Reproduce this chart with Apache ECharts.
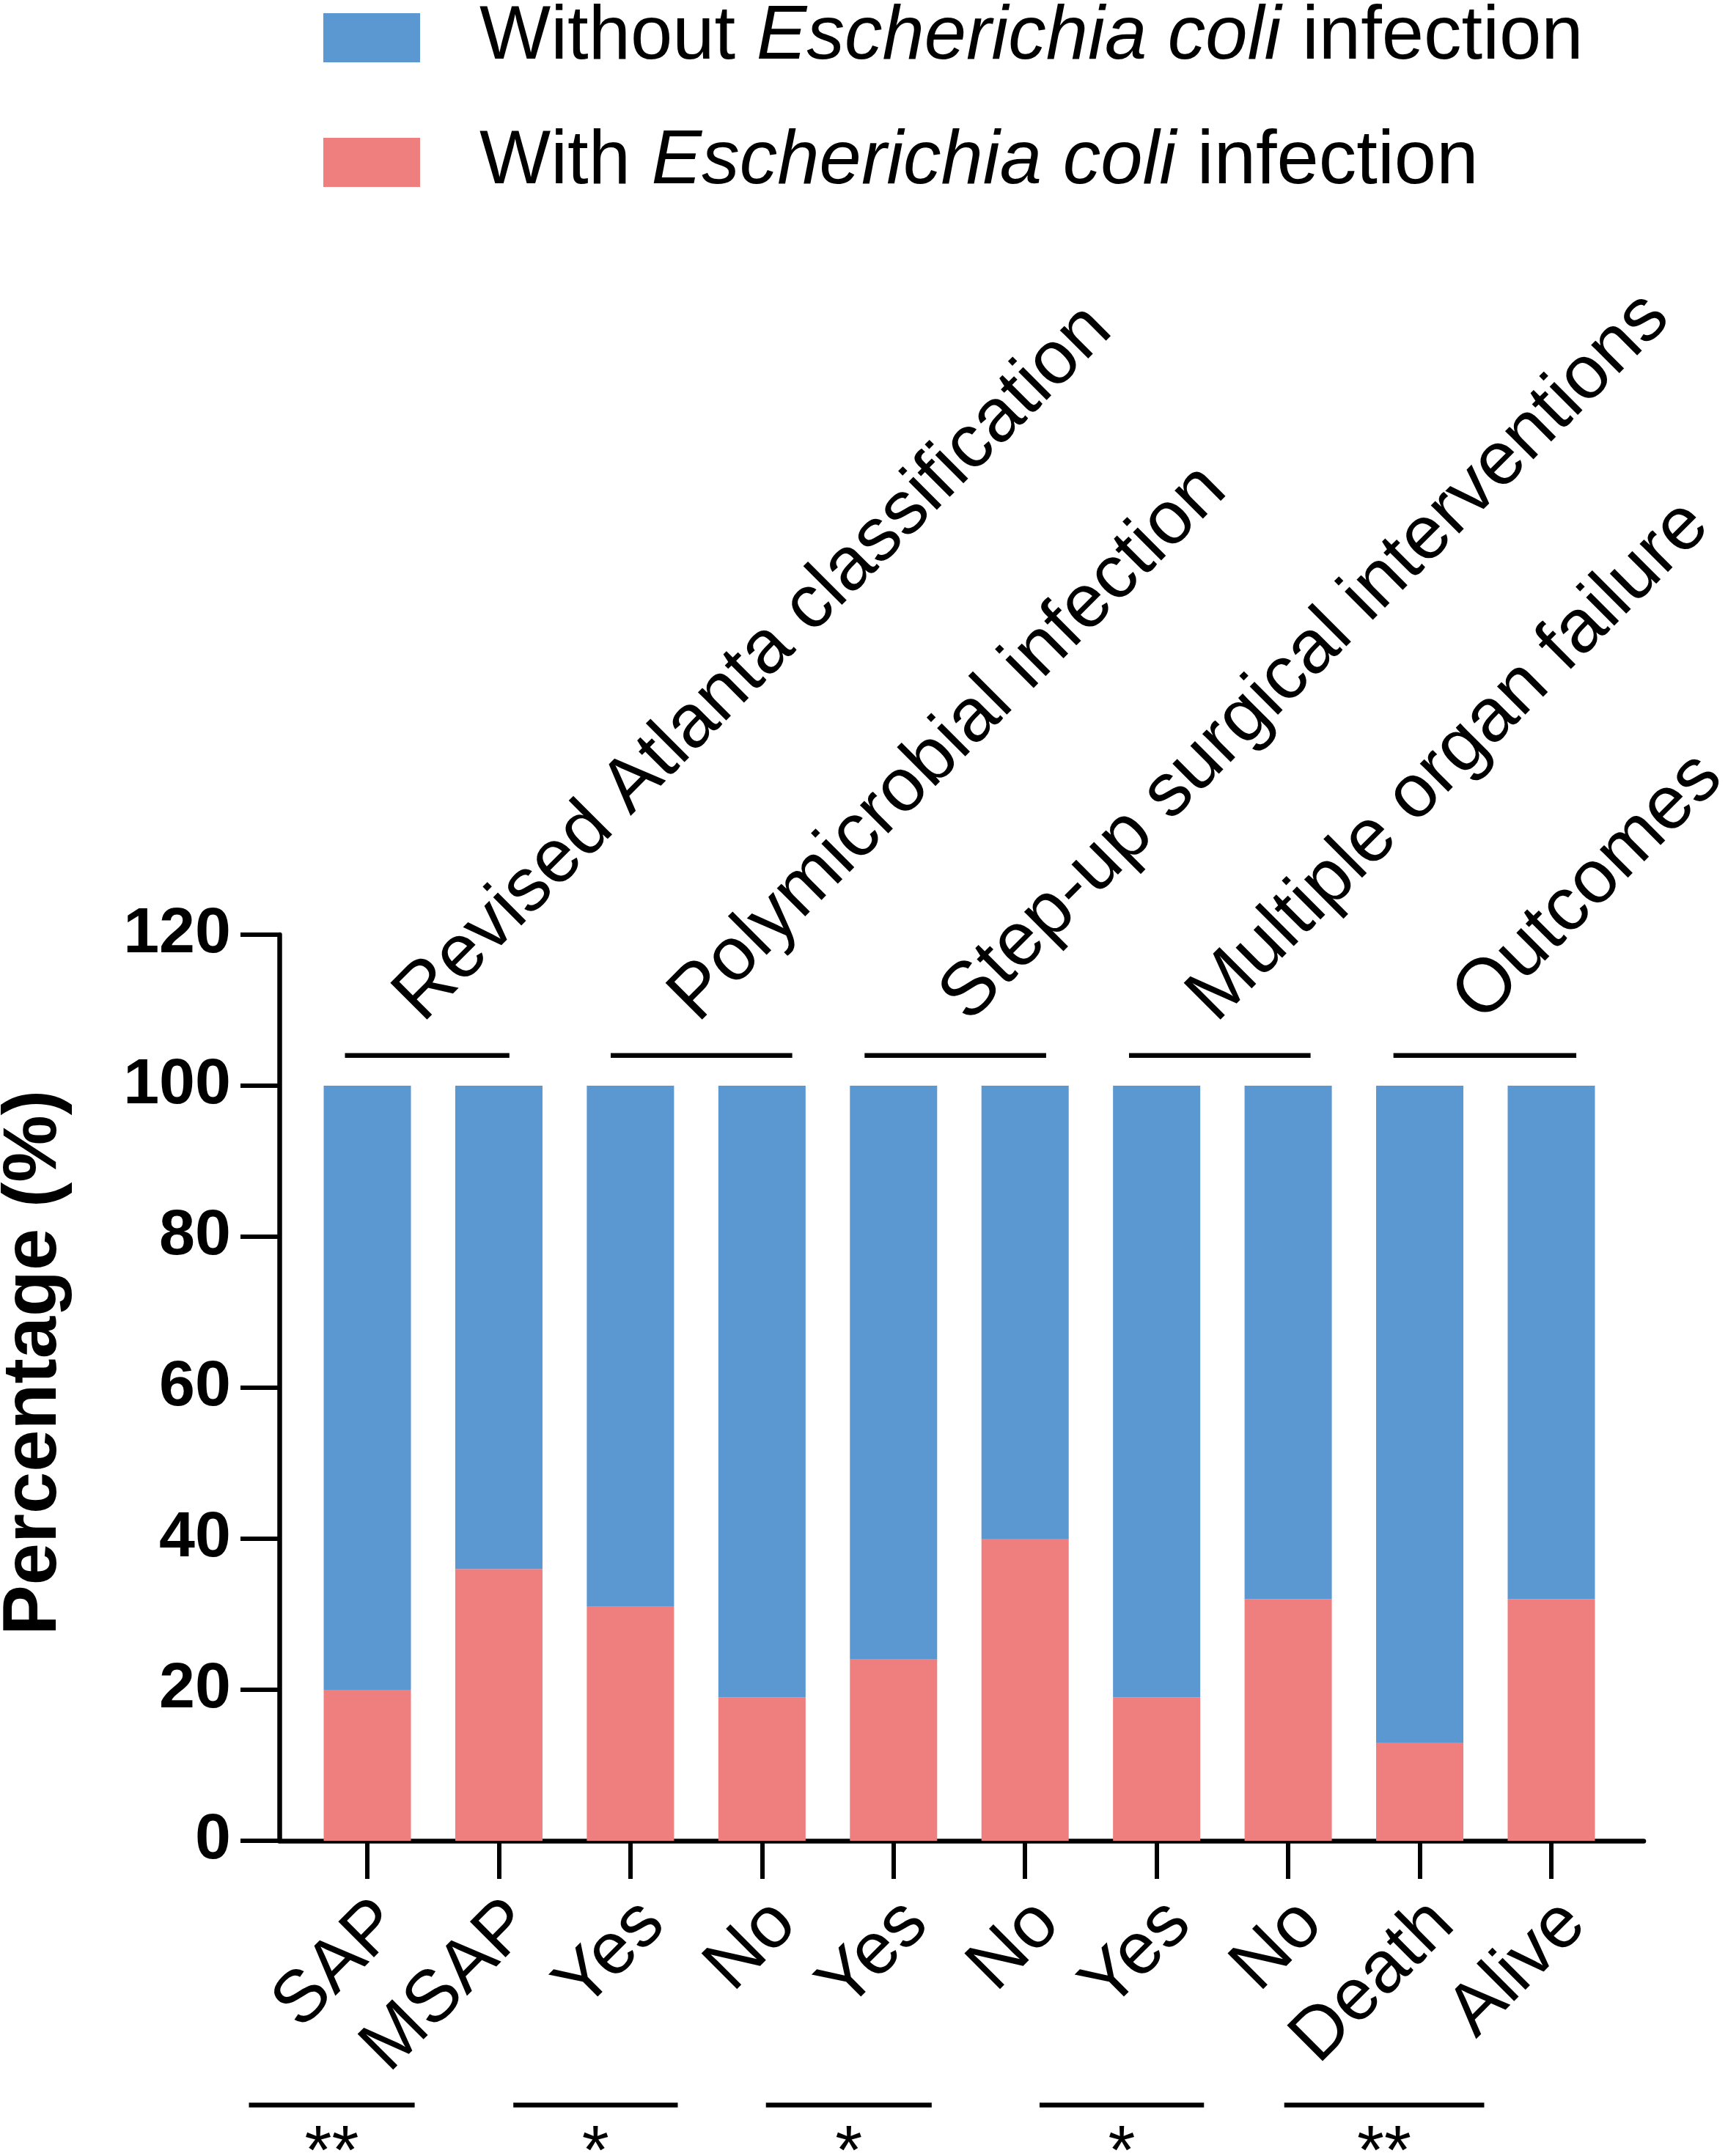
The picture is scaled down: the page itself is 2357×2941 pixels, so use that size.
<!DOCTYPE html>
<html>
<head>
<meta charset="utf-8">
<script src="https://cdn.jsdelivr.net/npm/echarts@6/dist/echarts.min.js"></script>
<style>
  html, body { margin: 0; padding: 0; background: #ffffff; }
  #chart { width: 2357px; height: 2941px; }
</style>
</head>
<body>
<div id="chart"></div>
<script>
// values (percent of patients)
var categories = ['SAP', 'MSAP', 'Yes', 'No', 'Yes', 'No', 'Yes', 'No', 'Death', 'Alive'];
var withEcoli = [20, 36, 31, 19, 24, 40, 19, 32, 13, 32];
var withoutEcoli = [80, 64, 69, 81, 76, 60, 81, 68, 87, 68];

var yMin = 0;
var yMax = 120;
var yStep = 20;

// group headers above the bars, spans in category units
var groupNames = ['Revised Atlanta classification', 'Polymicrobial infection',
  'Step-up surgical interventions', 'Multiple organ failure', 'Outcomes'];
var groupFrom = [-0.17, 1.85, 3.78, 5.79, 7.80];
var groupTo = [1.08, 3.23, 5.16, 7.17, 9.19];
var groupLabelAt = [0.45, 2.54, 4.60, 6.48, 8.50];
var groupLineY = 104;

// significance brackets under the labels
var sigMarks = ['**', '*', '*', '*', '**'];
var sigFrom = [-0.90, 1.11, 3.03, 5.11, 6.97];
var sigTo = [0.36, 2.36, 4.29, 6.36, 8.49];
var sigLineY = -35;
var sigMarkY = -41.5;

var nameWithout = 'Without Escherichia coli infection';
var nameWith = 'With Escherichia coli infection';

var FONT = "'Liberation Sans', Arial, sans-serif";
var chart = echarts.init(document.getElementById('chart'));

var option = {
  backgroundColor: '#ffffff',
  animation: false,
  legend: {
    data: [nameWithout, nameWith],
    orient: 'vertical',
    left: 441,
    top: 0,
    padding: 0,
    icon: 'rect',
    itemWidth: 132,
    itemHeight: 67,
    itemGap: 67,
    selectedMode: false,
    formatter: function (name) {
      var parts = name.split('Escherichia coli');
      return '{s| }' + parts[0] + '{i|Escherichia coli}' + parts[1];
    },
    textStyle: {
      fontFamily: FONT,
      fontSize: 103,
      lineHeight: 100,
      color: '#000',
      rich: {
        s: { width: 76, fontSize: 103, lineHeight: 100 },
        i: { fontFamily: FONT, fontSize: 103, lineHeight: 100, fontStyle: 'italic', color: '#000' }
      }
    }
  },
  grid: [
    // axes frame
    { left: 381, right: 115, top: 1275, bottom: 430, outerBoundsMode: 'none' },
    // bars and ticks
    { left: 411.3, right: 151.3, top: 1275, bottom: 430, outerBoundsMode: 'none' },
    // tick labels, set a little right of the ticks as in the figure
    { left: 442.3, right: 120.3, top: 1275, bottom: 430, outerBoundsMode: 'none' }
  ],
  xAxis: [{
    gridIndex: 0,
    type: 'value',
    min: 0,
    max: 1,
    axisLine: { show: true, onZero: false, lineStyle: { color: '#000', width: 6.5 } },
    axisTick: { show: false },
    axisLabel: { show: false },
    splitLine: { show: false }
  }, {
    gridIndex: 1,
    type: 'category',
    data: categories,
    axisLine: { show: false },
    axisTick: { show: true, alignWithLabel: true, length: 52, lineStyle: { color: '#000', width: 6 } },
    axisLabel: { show: false },
    splitLine: { show: false }
  }, {
    gridIndex: 2,
    type: 'category',
    data: categories,
    axisLine: { show: false },
    axisTick: { show: false },
    axisLabel: {
      interval: 0,
      rotate: 45,
      margin: 98,
      fontFamily: FONT,
      fontSize: 100,
      color: '#000'
    },
    splitLine: { show: false }
  }],
  yAxis: [{
    gridIndex: 0,
    type: 'value',
    min: yMin,
    max: yMax,
    interval: yStep,
    name: 'Percentage (%)',
    nameLocation: 'middle',
    nameGap: 282,
    nameMoveOverlap: false,
    nameTextStyle: {
      fontFamily: FONT,
      fontSize: 103,
      lineHeight: 103,
      fontWeight: 'bold',
      color: '#000',
      padding: [0, 0, 0, 68]
    },
    axisLine: { show: true, lineStyle: { color: '#000', width: 6.5 } },
    axisTick: { show: true, length: 53, lineStyle: { color: '#000', width: 6 } },
    axisLabel: { margin: 66, fontFamily: FONT, fontSize: 88, fontWeight: 'bold', color: '#000' },
    splitLine: { show: false }
  }, {
    gridIndex: 1,
    type: 'value',
    min: yMin,
    max: yMax,
    interval: yStep,
    show: false
  }, {
    gridIndex: 2,
    type: 'value',
    min: yMin,
    max: yMax,
    interval: yStep,
    show: false
  }],
  series: [{
    name: nameWith,
    type: 'bar',
    stack: 'pct',
    xAxisIndex: 1,
    yAxisIndex: 1,
    barWidth: 119,
    itemStyle: { color: '#ef7e7e' },
    data: withEcoli
  }, {
    name: nameWithout,
    type: 'bar',
    stack: 'pct',
    xAxisIndex: 1,
    yAxisIndex: 1,
    barWidth: 119,
    itemStyle: { color: '#5b97d1' },
    data: withoutEcoli
  }]
};

chart.setOption(option);

// annotation positions come from the chart's own scales
var c0 = chart.convertToPixel({ xAxisIndex: 1 }, 0);
var c1 = chart.convertToPixel({ xAxisIndex: 1 }, 1);
function px(f) { return c0 + f * (c1 - c0); }
function py(v) { return chart.convertToPixel({ yAxisIndex: 1 }, v); }

var elements = [];
// text is anchored at its middle line, baseline 38px above the header line
var diag = 0.3465 * 103 * Math.SQRT1_2;
for (var i = 0; i < groupNames.length; i++) {
  var gy = py(groupLineY);
  elements.push({
    type: 'line',
    shape: { x1: px(groupFrom[i]), y1: gy, x2: px(groupTo[i]), y2: gy },
    style: { stroke: '#000', lineWidth: 6.5 }
  });
  elements.push({
    type: 'text',
    x: px(groupLabelAt[i]) - diag,
    y: gy - 38 - diag,
    rotation: Math.PI / 4,
    style: {
      text: groupNames[i],
      fontFamily: FONT,
      fontSize: 103,
      fill: '#000',
      align: 'left',
      verticalAlign: 'middle'
    }
  });
}
for (var j = 0; j < sigMarks.length; j++) {
  var sy = py(sigLineY);
  elements.push({
    type: 'line',
    shape: { x1: px(sigFrom[j]), y1: sy, x2: px(sigTo[j]), y2: sy },
    style: { stroke: '#000', lineWidth: 6.5 }
  });
  elements.push({
    type: 'text',
    x: (px(sigFrom[j]) + px(sigTo[j])) / 2,
    y: py(sigMarkY),
    style: {
      text: sigMarks[j],
      fontFamily: FONT,
      fontSize: 95,
      fill: '#000',
      align: 'center',
      verticalAlign: 'middle'
    }
  });
}
chart.setOption({ graphic: elements });
</script>
</body>
</html>
